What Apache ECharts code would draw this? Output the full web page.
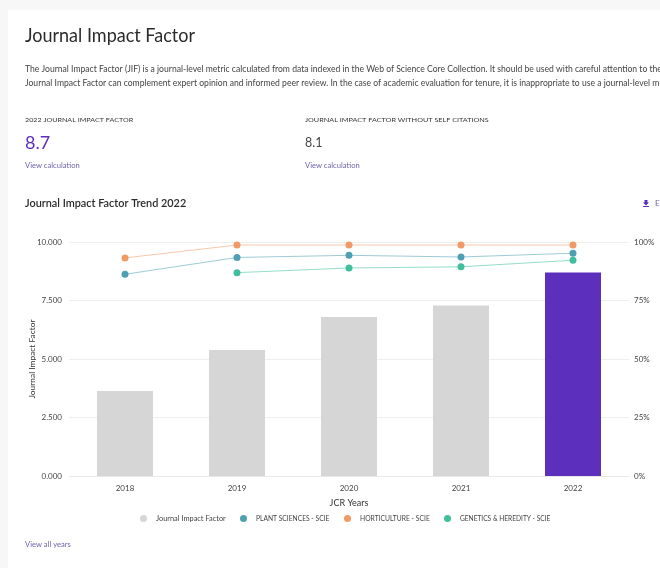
<!DOCTYPE html>
<html><head><meta charset="utf-8">
<style>html,body{margin:0;padding:0;background:#f7f7f7;overflow:hidden}#c{width:660px;height:568px}</style>
<script src="https://cdn.jsdelivr.net/npm/echarts@6/dist/echarts.min.js"></script>
</head><body><div id="c"></div>
<script>
const years = ['2018','2019','2020','2021','2022'];
const jif = [3.63, 5.38, 6.79, 7.29, 8.7];
const plantSciences = [86.2, 93.4, 94.3, 93.6, 95.2];
const horticulture = [93.2, 98.7, 98.7, 98.7, 98.7];
const genetics = [null, 86.9, 88.9, 89.4, 92.2];
const leftTicks = ['0.000','2.500','5.000','7.500','10.000'];

const FF = 'Lato, "Noto Sans", sans-serif';
const txt = (x, y, text, size, fill, extra, sx) => ({
  type:'text', x, y, scaleX:sx||1, silent:true,
  style:Object.assign({text, fontSize:size, fill, fontFamily:FF, textVerticalAlign:'middle'}, extra||{})
});
const chart = echarts.init(document.getElementById('c'), null, {renderer:'canvas'});
const purple = '#5c2fbc', link = '#6f62ad';
const line = (name, data, color) => ({
  name, type:'line', yAxisIndex:1, data, symbol:'circle', symbolSize:7, connectNulls:false,
  itemStyle:{color}, lineStyle:{color, width:1, opacity:.55}, z:5
});
const legendItem = (name, left, size) => ({
  left, top:515, itemWidth:7, itemHeight:7, icon:'circle', padding:0,
  textStyle:{fontSize:size,color:'#444',fontFamily:FF,padding:[0,0,0,4]},
  data:[name]
});
chart.setOption({
  animation:false,
  backgroundColor:'#f7f7f7',
  graphic:[
    {type:'rect', shape:{x:8,y:10,width:660,height:570}, style:{fill:'#fff'}, silent:true, z:-10},
    txt(25,36,'Journal Impact Factor',20,'#2b2b2b',null,.9),
    txt(25,69,'The Journal Impact Factor (JIF) is a journal-level metric calculated from data indexed in the Web of Science Core Collection. It should be used with careful attention to the many factors that influence',9,'#444',null,.955),
    txt(25,83,'Journal Impact Factor can complement expert opinion and informed peer review. In the case of academic evaluation for tenure, it is inappropriate to use a journal-level metric as a proxy',9,'#444',null,.955),
    txt(25,120,'2022 JOURNAL IMPACT FACTOR',6.5,'#333',null,1.1),
    txt(305,120,'JOURNAL IMPACT FACTOR WITHOUT SELF CITATIONS',6.5,'#333',null,1.115),
    txt(25,143,'8.7',18,purple),
    txt(305,143,'8.1',12.5,'#444'),
    txt(25,165.5,'View calculation',8,link,null,.95),
    txt(305,165.5,'View calculation',8,link,null,.95),
    txt(25,203,'Journal Impact Factor Trend 2022',11.5,'#2b2b2b',{fontWeight:600},.945),
    {type:'polygon', silent:true, shape:{points:[[644.5,200],[647.5,200],[647.5,202.5],[649,202.5],[646,205.5],[643,202.5],[644.5,202.5]]}, style:{fill:purple}},
    {type:'rect', silent:true, shape:{x:643,y:206,width:6,height:1}, style:{fill:purple}},
    txt(655,203,'E',8,link),
    txt(25,544.5,'View all years',8,link,null,.95)
  ],
  grid:{left:69,right:31,top:242,bottom:92},
  legend:[
    legendItem('Journal Impact Factor', 140, 7.4),
    legendItem('PLANT SCIENCES - SCIE', 240, 6.7),
    legendItem('HORTICULTURE - SCIE', 344, 6.75),
    legendItem('GENETICS & HEREDITY - SCIE', 444, 6.6)
  ],
  xAxis:{
    type:'category', data:years, name:'JCR Years', nameLocation:'middle', nameGap:23,
    nameTextStyle:{fontSize:9,color:'#333',fontFamily:FF},
    axisTick:{show:false}, axisLine:{lineStyle:{color:'#e8e8e8'}},
    axisLabel:{fontSize:8,color:'#444',margin:8,fontFamily:FF}
  },
  yAxis:[
    {type:'value', min:0, max:10, interval:2.5, name:'Journal Impact Factor', nameLocation:'middle', nameGap:33, nameMoveOverlap:false,
     nameTextStyle:{fontSize:8.4,color:'#333',fontFamily:FF},
     axisLine:{show:false}, axisTick:{show:false},
     splitLine:{lineStyle:{color:'#eeeeee',width:1}},
     axisLabel:{fontSize:8,color:'#444',margin:7,fontFamily:FF,formatter:(v,i)=>leftTicks[i]}},
    {type:'value', min:0, max:100, interval:25, axisLine:{show:false}, axisTick:{show:false}, splitLine:{show:false},
     axisLabel:{fontSize:8,color:'#444',margin:5,fontFamily:FF,formatter:'{value}%'}}
  ],
  series:[
    {name:'Journal Impact Factor', type:'bar', barWidth:56, itemStyle:{color:'#d6d6d6'},
     data:jif.map((v,i)=> i===jif.length-1 ? {value:v,itemStyle:{color:purple}} : v)},
    line('PLANT SCIENCES - SCIE', plantSciences, '#4f9fb3'),
    line('HORTICULTURE - SCIE', horticulture, '#f09a66'),
    line('GENETICS & HEREDITY - SCIE', genetics, '#3fbf9b')
  ]
});
</script></body></html>
